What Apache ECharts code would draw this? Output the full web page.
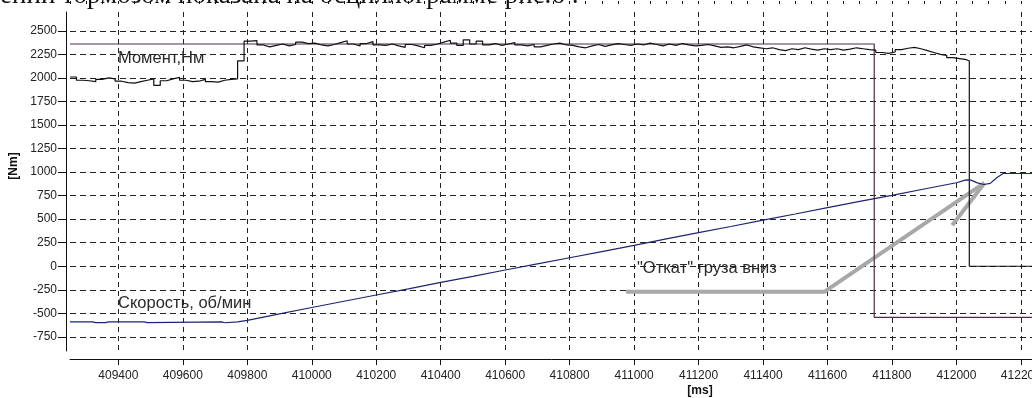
<!DOCTYPE html>
<html>
<head>
<meta charset="utf-8">
<script src="https://cdn.jsdelivr.net/npm/echarts@6/dist/echarts.min.js"></script>
<style>
html,body{margin:0;padding:0;background:#fff;}
#chart{width:1032px;height:398px;}
</style>
</head>
<body>
<div id="chart"></div>
<script>
// ---- Data ----
const X_TICKS = [409400,409600,409800,410000,410200,410400,410600,410800,411000,411200,411400,411600,411800,412000,412200];
const Y_TICKS = [-750,-500,-250,0,250,500,750,1000,1250,1500,1750,2000,2250,2500];

// Setpoint (thin dark line): [time ms, Nm]
const SETPOINT_T = [409250, 411745, 411745, 412250];
const SETPOINT_V = [2360, 2360, -543, -543];

// Moment, sampled every 20 ms starting at 409250 ms
const MOMENT_T0 = 409250;
const MOMENT_DT = 20;
const MOMENT = [
  2010,1975,1970,1960,1985,2000,1990,1965,1950,1945,1960,1975,1990,1920,1970,1990,2005,1975,1960,1965,1985,1960,1955,1975,1985,1990,
  2180,
  2390,2395,2350,2330,2345,2360,2340,2355,2380,2365,
  2370,2350,2340,2355,2375,2395,2360,2340,2365,2385,
  2350,2345,2360,2340,2325,2355,2340,2320,2345,2360,
  2380,2400,2370,2345,2405,2360,2390,2350,2365,2345,
  2360,2375,2350,2340,2355,2330,2345,2360,2370,2350,
  2345,2330,2320,2340,2355,2335,2350,2365,2355,2345,
  2360,2350,2370,2355,2340,2360,2345,2365,2350,2340,
  2345,2355,2340,2325,2330,2320,2335,2350,2330,2320,
  2310,2320,2300,2290,2310,2300,2320,2305,2295,2310,
  2300,2310,2295,2305,2320,2310,2300,2295,
  2270,2260,2275,2300,2315,2325,2310,2290,2270,2250,2240,2215,2205,2195,2180
];
const MOMENT_AFTER_T = [412040, 412250];
const MOMENT_AFTER_V = [0, 0];

// Speed (navy line)
const SPEED_T = [409250,409320,409330,409360,409370,409480,409490,409720,409730,409770,409800,409900,410000,410100,410200,410300,410400,410500,410600,410700,410800,410900,411000,411100,411200,411300,411400,411500,411600,411700,411800,411900,412000,412030,412045,412065,412085,412105,412125,412145,412250];
const SPEED_V = [-590,-590,-598,-598,-590,-590,-598,-590,-600,-590,-575,-505,-438,-372,-305,-240,-172,-108,-40,25,90,155,222,290,357,422,490,555,622,688,752,820,887,918,915,885,868,880,940,985,985];

// Grey annotation arrow
const ARROW_T = [410975, 411590, 412087];
const ARROW_V = [-272, -272, 885];
const BARB_T = [411987, 412087];
const BARB_V = [436, 885];

const LABEL_MOMENT = 'Момент,Нм';
const LABEL_SPEED = 'Скорость, об/мин';
const LABEL_ROLLBACK = '"Откат" груза вниз';
const HEADER = 'ении тормозом показана на осциллограмме рис.6 :';

// ---- Build ----
const pairs = (t, v) => t.map((x, i) => [x, v[i]]);
const momentData = MOMENT.map((v, i) => [MOMENT_T0 + i * MOMENT_DT, v]).concat(pairs(MOMENT_AFTER_T, MOMENT_AFTER_V));

const FONT = 'Liberation Sans, Arial, sans-serif';

const chart = echarts.init(document.getElementById('chart'), null, { renderer: 'canvas' });
const xBase = { type: 'value', min: 409250, max: 412250, interval: 50, offset: 8, gridIndex: 0 };
const yBase = { type: 'value', min: -900, max: 2700, interval: 50, offset: 4, gridIndex: 0 };

chart.setOption({
  animation: false,
  backgroundColor: '#fff',
  grid: { left: 70, right: -5, top: 12, bottom: 47, containLabel: false, outerBoundsMode: 'none' },
  xAxis: [
    Object.assign({}, xBase, {
      axisLine: { show: true, onZero: false, lineStyle: { color: '#111', width: 1 } },
      axisTick: { show: true, customValues: X_TICKS, length: 6, lineStyle: { color: '#111' } },
      axisLabel: { show: true, customValues: X_TICKS, margin: 11, color: '#222', fontSize: 12, fontFamily: FONT,
        formatter: v => (v % 200 === 0 ? String(v) : '') },
      splitLine: { show: true, lineStyle: { color: '#222', width: 1, type: [5, 4] } }
    }),
    Object.assign({}, xBase, {
      axisLine: { show: false, onZero: false },
      axisTick: { show: true, length: 3, lineStyle: { color: '#111' } },
      axisLabel: { show: false },
      splitLine: { show: false }
    })
  ],
  yAxis: [
    Object.assign({}, yBase, {
      axisLine: { show: true, onZero: false, lineStyle: { color: '#111', width: 1 } },
      axisTick: { show: true, customValues: Y_TICKS, length: 8, lineStyle: { color: '#111' } },
      axisLabel: { show: true, customValues: Y_TICKS, margin: 9, color: '#222', fontSize: 12, fontFamily: FONT,
        formatter: v => (v % 250 === 0 && v >= -750 && v <= 2500 ? String(v) : '') },
      splitLine: { show: true, lineStyle: { color: '#222', width: 1, type: [6, 4] } }
    }),
    Object.assign({}, yBase, {
      axisLine: { show: false, onZero: false },
      axisTick: { show: true, length: 4, lineStyle: { color: '#111' } },
      axisLabel: { show: false },
      splitLine: { show: false }
    })
  ],
  graphic: [
    { type: 'text', left: 0, top: -18, silent: true,
      style: { text: HEADER, font: '27px "Liberation Serif", "Times New Roman", serif', fill: '#111' } },
    { type: 'text', x: 14, y: 166, rotation: Math.PI / 2, silent: true,
      style: { text: '[Nm]', font: 'bold 12px ' + FONT, fill: '#111', align: 'center', verticalAlign: 'middle' } },
    { type: 'text', x: 700, y: 391, silent: true,
      style: { text: '[ms]', font: 'bold 12px ' + FONT, fill: '#111', align: 'center', verticalAlign: 'middle' } },
    { type: 'text', x: 118, y: 58, silent: true,
      style: { text: LABEL_MOMENT, font: '16.5px ' + FONT, fill: '#2a2a2a', verticalAlign: 'middle' } },
    { type: 'text', x: 118, y: 303, silent: true,
      style: { text: LABEL_SPEED, font: '16.5px ' + FONT, fill: '#2a2a2a', verticalAlign: 'middle' } },
    { type: 'text', x: 637, y: 268, silent: true,
      style: { text: LABEL_ROLLBACK, font: '16.5px ' + FONT, fill: '#2a2a2a', verticalAlign: 'middle' } }
  ],
  series: [
    { name: 'arrow', type: 'line', data: pairs(ARROW_T, ARROW_V), showSymbol: false, silent: true,
      lineStyle: { color: '#a8a8a8', width: 4 }, z: 1 },
    { name: 'barb', type: 'line', data: pairs(BARB_T, BARB_V), showSymbol: false, silent: true,
      lineStyle: { color: '#a8a8a8', width: 4 }, z: 1 },
    { name: 'setpoint', type: 'line', data: pairs(SETPOINT_T, SETPOINT_V), showSymbol: false, silent: true,
      lineStyle: { color: '#4e2c46', width: 1.2 }, z: 3 },
    { name: 'moment', type: 'line', step: 'end', data: momentData, showSymbol: false, silent: true,
      lineStyle: { color: '#111', width: 1.2 }, z: 4 },
    { name: 'speed', type: 'line', data: pairs(SPEED_T, SPEED_V), showSymbol: false, silent: true,
      lineStyle: { color: '#1d2470', width: 1.2 }, z: 4 }
  ]
});
</script>
</body>
</html>
